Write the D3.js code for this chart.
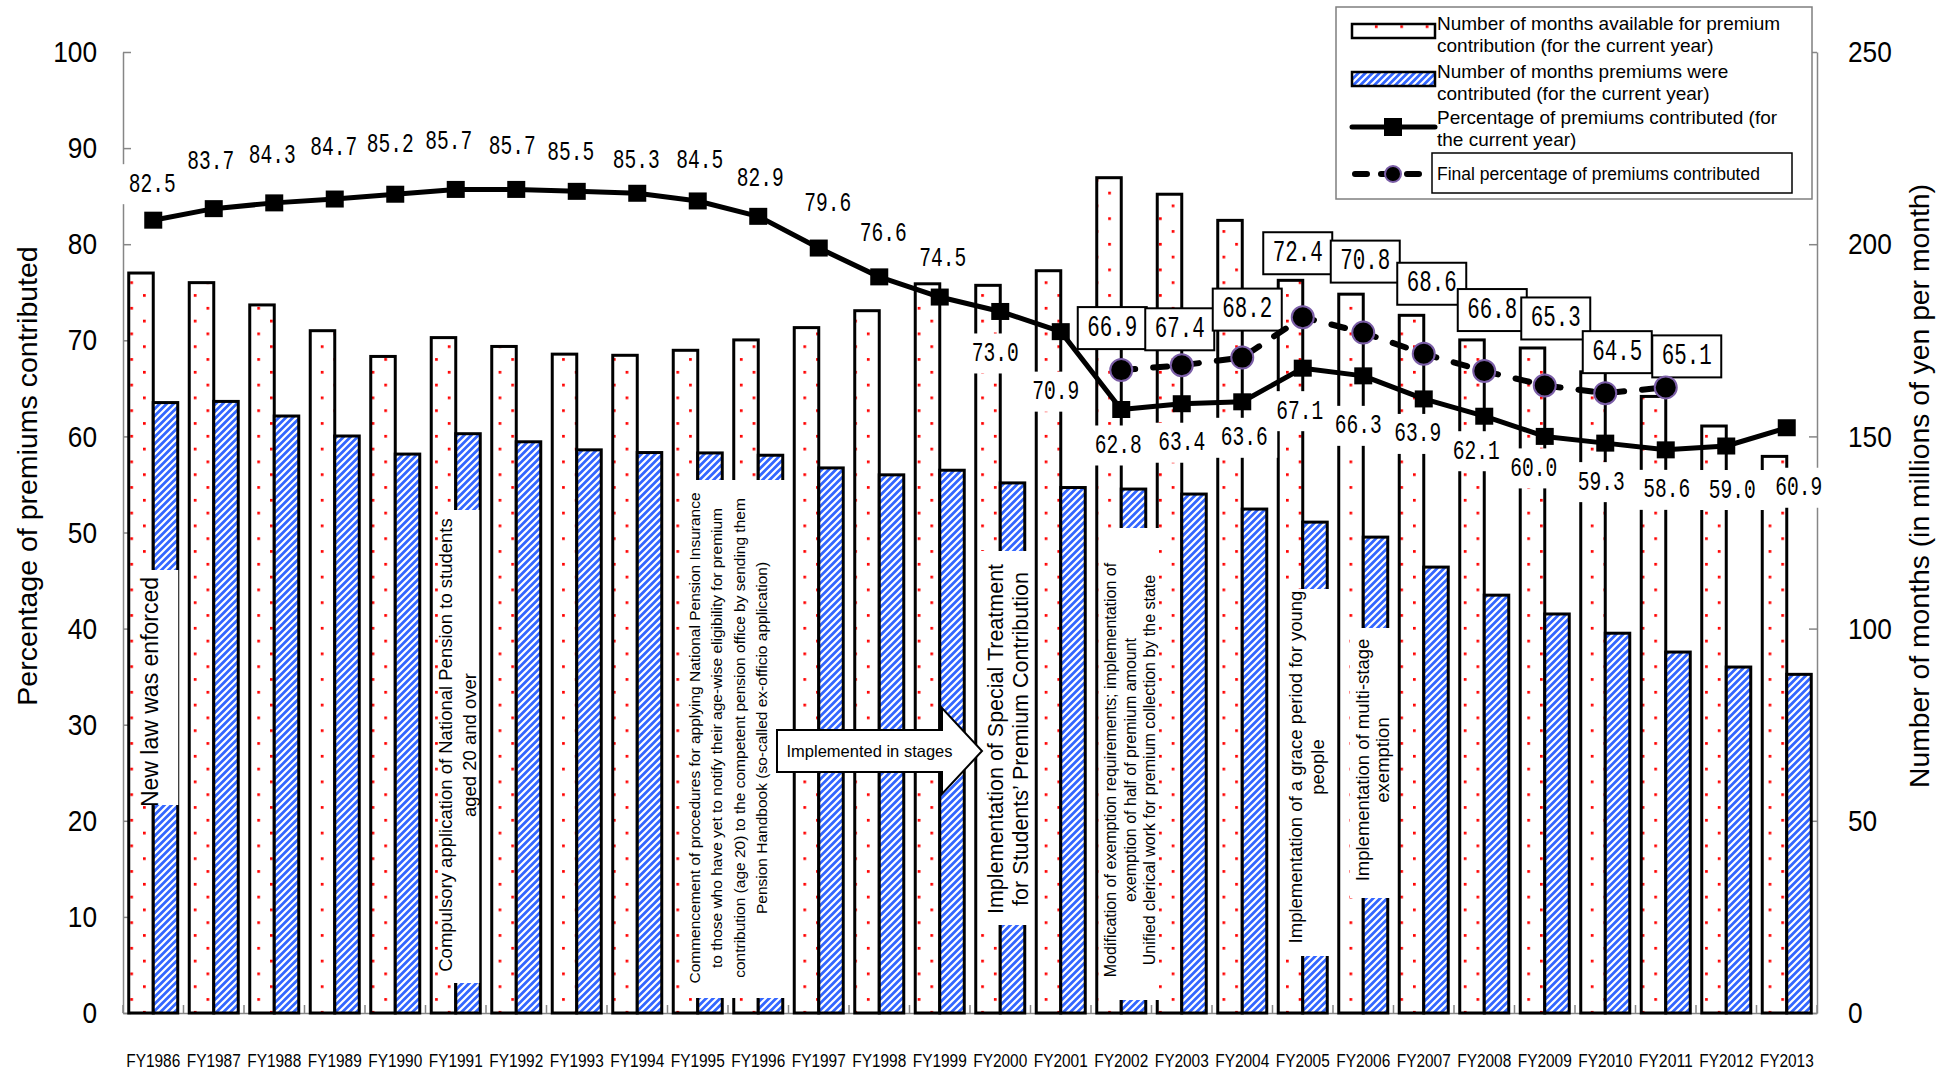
<!DOCTYPE html>
<html>
<head>
<meta charset="utf-8">
<script src="https://cdn.jsdelivr.net/npm/d3@7"></script>
<style>
  html, body { margin: 0; padding: 0; background: #fff; }
  svg { display: block; }
</style>
</head>
<body>
<svg id="chart" width="1948" height="1072"></svg>
<script>
// ---- Data ---------------------------------------------------------------
const years = ['FY1986','FY1987','FY1988','FY1989','FY1990','FY1991','FY1992','FY1993','FY1994','FY1995',
  'FY1996','FY1997','FY1998','FY1999','FY2000','FY2001','FY2002','FY2003','FY2004','FY2005',
  'FY2006','FY2007','FY2008','FY2009','FY2010','FY2011','FY2012','FY2013'];

// millions of months (right axis)
const availableMonths = [192.5,190.0,184.2,177.5,170.8,175.7,173.4,171.4,171.1,172.4,
  175.1,178.3,182.7,189.7,189.3,193.1,217.3,213.0,206.2,190.6,
  187.0,181.5,175.1,173.0,166.8,160.4,152.7,144.8];
const contributedMonths = [158.8,159.1,155.3,150.1,145.4,150.7,148.6,146.5,145.8,145.7,
  145.1,141.8,140.0,141.2,137.9,136.7,136.3,135.0,131.1,127.7,
  123.8,116.0,108.7,103.8,98.8,93.9,90.0,88.1];

// percent (left axis)
const currentRate = [82.5,83.7,84.3,84.7,85.2,85.7,85.7,85.5,85.3,84.5,
  82.9,79.6,76.6,74.5,73.0,70.9,62.8,63.4,63.6,67.1,
  66.3,63.9,62.1,60.0,59.3,58.6,59.0,60.9];
const finalYears = ['FY2002','FY2003','FY2004','FY2005','FY2006','FY2007','FY2008','FY2009','FY2010','FY2011'];
const finalRate = [66.9,67.4,68.2,72.4,70.8,68.6,66.8,65.3,64.5,65.1];

const leftTicks = [0,10,20,30,40,50,60,70,80,90,100];
const rightTicks = [0,50,100,150,200,250];

const leftTitle = 'Percentage of premiums contributed';
const rightTitle = 'Number of months (in millions of yen per month)';

// ---- Label placement (pixel nudges from each marker) ----------------------
const currentLabelDx = [-1,-3,-2,-1,-5,-7,-4,-6,-1,2,2,9,4,3,-5,-5,-3,0,2,-3,-5,-6,-8,-11,-4,1,6,12];
const currentLabelDy = [-36,-47,-47,-52,-50,-48,-43,-39,-33,-40,-38,-45,-43,-39,42,60,36,39,36,43,50,35,35,32,39,40,44,60];
const finalLabelDx = [-9,-2,5,-5,2,8,8,11,12,21];
const finalLabelDy = [-42,-36,-48,-64,-71,-70,-61,-67,-41,-31];

// ---- Scales ---------------------------------------------------------------
const svg = d3.select('#chart');
const plot = { left: 123, right: 1817, top: 52, bottom: 1013 };
const SANS = '"Liberation Sans", Arial, "Noto Sans", sans-serif';
const MONO = '"Liberation Mono", "DejaVu Sans Mono", monospace';
const AXIS_GREY = '#868686';
const BLUE = '#3366ff';

const x = d3.scaleBand().domain(years).range([plot.left, plot.right])
  .paddingInner(0.19).paddingOuter(0.095);
const xSub = d3.scaleBand().domain(['available', 'contributed']).range([0, x.bandwidth()]);
const yLeft = d3.scaleLinear().domain([0, 100]).range([plot.bottom, plot.top]);
const yRight = d3.scaleLinear().domain([0, 250]).range([plot.bottom, plot.top]);
const cx = yr => x(yr) + x.bandwidth() / 2;

// ---- Fill patterns ----------------------------------------------------------
const defs = svg.append('defs');
const dots = defs.append('pattern').attr('id', 'dots').attr('patternUnits', 'userSpaceOnUse')
  .attr('x', 130.3).attr('y', 281.3).attr('width', 25.4).attr('height', 25.6);
dots.append('rect').attr('width', 25.4).attr('height', 25.6).attr('fill', '#fff');
dots.append('rect').attr('x', 0).attr('y', 0).attr('width', 2.7).attr('height', 2.7).attr('fill', '#ff0000');
dots.append('rect').attr('x', 12.7).attr('y', 12.8).attr('width', 2.7).attr('height', 2.7).attr('fill', '#ff0000');

const hatch = defs.append('pattern').attr('id', 'hatch').attr('patternUnits', 'userSpaceOnUse')
  .attr('width', 7).attr('height', 7);
hatch.append('rect').attr('width', 7).attr('height', 7).attr('fill', BLUE);
hatch.append('path').attr('d', 'M-1,1 L1,-1 M0,7 L7,0 M6,8 L8,6')
  .attr('stroke', '#fff').attr('stroke-width', 2.2);

// ---- Axes -------------------------------------------------------------------
function styleAxis(g) {
  g.select('.domain').attr('stroke', AXIS_GREY).attr('stroke-width', 1.5);
  g.selectAll('.tick line').attr('stroke', AXIS_GREY).attr('stroke-width', 1.5);
  g.selectAll('.tick text').attr('fill', '#000').attr('font-family', SANS).attr('font-size', 30)
    .attr('lengthAdjust', 'spacingAndGlyphs')
    .attr('textLength', function () { return this.textContent.length * 14.6; });
}

svg.append('g').attr('transform', `translate(${plot.left},0)`)
  .call(d3.axisLeft(yLeft).tickValues(leftTicks).tickSizeInner(-8).tickSizeOuter(0).tickPadding(26))
  .call(styleAxis);

svg.append('g').attr('transform', `translate(${plot.right},0)`)
  .call(d3.axisRight(yRight).tickValues(rightTicks).tickSizeInner(-8).tickSizeOuter(0).tickPadding(31))
  .call(styleAxis);

const xAxis = svg.append('g').attr('transform', `translate(0,${plot.bottom})`)
  .call(d3.axisBottom(x).tickSize(0).tickSizeOuter(0));
xAxis.select('.domain').attr('stroke', AXIS_GREY).attr('stroke-width', 1.5);
xAxis.selectAll('.tick text').attr('y', 48).attr('dy', '0.35em')
  .attr('font-family', SANS).attr('font-size', 18).attr('fill', '#000')
  .attr('textLength', 54).attr('lengthAdjust', 'spacingAndGlyphs');

// category boundary ticks
const half = x.step() * x.paddingInner() / 2;
const bounds = years.map(yr => x(yr) - half).concat([x(years[years.length - 1]) + x.bandwidth() + half]);
svg.append('g').selectAll('line').data(bounds).join('line')
  .attr('x1', d => d).attr('x2', d => d)
  .attr('y1', plot.bottom).attr('y2', plot.bottom - 8)
  .attr('stroke', AXIS_GREY).attr('stroke-width', 1.5);

// axis titles
svg.append('text').attr('transform', 'translate(27,476) rotate(-90)')
  .attr('text-anchor', 'middle').attr('dominant-baseline', 'central')
  .attr('font-family', SANS).attr('font-size', 28.5).text(leftTitle);
svg.append('text').attr('transform', 'translate(1919,486) rotate(-90)')
  .attr('text-anchor', 'middle').attr('dominant-baseline', 'central')
  .attr('font-family', SANS).attr('font-size', 28.3).text(rightTitle);

// ---- Bars ---------------------------------------------------------------------
const barData = years.map((yr, i) => ({ year: yr, available: availableMonths[i], contributed: contributedMonths[i] }));
const bars = svg.append('g');
bars.selectAll('rect.avail').data(barData).join('rect').attr('class', 'avail')
  .attr('x', d => x(d.year) + xSub('available'))
  .attr('y', d => yRight(d.available))
  .attr('width', xSub.bandwidth())
  .attr('height', d => yRight(0) - yRight(d.available))
  .attr('fill', 'url(#dots)').attr('stroke', '#000').attr('stroke-width', 3);
bars.selectAll('rect.paid').data(barData).join('rect').attr('class', 'paid')
  .attr('x', d => x(d.year) + xSub('contributed'))
  .attr('y', d => yRight(d.contributed))
  .attr('width', xSub.bandwidth())
  .attr('height', d => yRight(0) - yRight(d.contributed))
  .attr('fill', 'url(#hatch)').attr('stroke', '#000').attr('stroke-width', 3);

// ---- Policy notes (vertical text boxes) ----------------------------------------
const notes = [
  { cat: 'FY1986', x0: 13.25, x1: 49.5, y0: 570, y1: 805, tx: 21.25, ty: 692, size: 23, gap: 0,
    lines: ['New law was enforced'] },
  { cat: 'FY1991', x0: 6.75, x1: 48, y0: 510, y1: 983, tx: 26.75, ty: 745, size: 18.5, gap: 24,
    lines: ['Compulsory application of National Pension to students', 'aged 20 and over'] },
  { cat: 'FY1995', x0: 10.75, x1: 116.75, y0: 480, y1: 998, tx: 54.75, ty: 738, size: 15.5, gap: 22.5,
    lines: ['Commencement of procedures for applying National Pension Insurance',
            'to those who have yet to notify their age-wise eligibility for premium',
            'contribution (age 20) to the competent pension office by sending them',
            'Pension Handbook (so-called ex-officio application)'] },
  { cat: 'FY2000', x0: 4.25, x1: 57.25, y0: 551, y1: 925, tx: 32.75, ty: 739, size: 21.5, gap: 25,
    lines: ['Implementation of Special Treatment', 'for Students\u2019 Premium Contribution'] },
  { cat: 'FY2002', x0: 3.25, x1: 62.25, y0: 528, y1: 1000, tx: 33.75, ty: 770, size: 16, gap: 19.5,
    lines: ['Modification of exemption requirements; implementation of',
            'exemption of half of premium amount',
            'Unified clerical work for premium collection by the state'] },
  { cat: 'FY2005', x0: 2.75, x1: 51.75, y0: 589, y1: 956, tx: 28.25, ty: 767, size: 18.5, gap: 22,
    lines: ['Implementation of a grace period for young', 'people'] },
  { cat: 'FY2006', x0: 11.25, x1: 51.25, y0: 628, y1: 898, tx: 34.25, ty: 760, size: 18.5, gap: 20,
    lines: ['Implementation of multi-stage', 'exemption'] }
];
const noteG = svg.append('g');
notes.forEach(n => {
  const b = x(n.cat);
  noteG.append('rect').attr('x', b + n.x0).attr('y', n.y0)
    .attr('width', n.x1 - n.x0).attr('height', n.y1 - n.y0).attr('fill', '#fff');
  const t = noteG.append('g').attr('transform', `translate(${b + n.tx},${n.ty}) rotate(-90)`);
  n.lines.forEach((ln, i) => {
    t.append('text').attr('x', 0).attr('y', (i - (n.lines.length - 1) / 2) * n.gap)
      .attr('text-anchor', 'middle').attr('dominant-baseline', 'central')
      .attr('font-family', SANS).attr('font-size', n.size).attr('fill', '#000').text(ln);
  });
});

// "Implemented in stages" block arrow, anchored on FY1996
{
  const b = x('FY1996');
  const x0 = b + 43.25, xb = b + 208.25, xt = b + 248.25;
  const pts = [[x0, 730], [xb, 730], [xb, 708], [xt, 751], [xb, 794], [xb, 772], [x0, 772]];
  noteG.append('path').attr('d', d3.line()(pts) + 'Z')
    .attr('fill', '#fff').attr('stroke', '#000').attr('stroke-width', 2);
  noteG.append('text').attr('x', b + 135.75).attr('y', 751)
    .attr('text-anchor', 'middle').attr('dominant-baseline', 'central')
    .attr('font-family', SANS).attr('font-size', 16.5).text('Implemented in stages');
}

// ---- Value labels ---------------------------------------------------------------
const fmt = d3.format('.1f');
const labelG = svg.append('g');

// monospaced value text squeezed horizontally to a target width
function valueText(parent, str, px, py, size, width) {
  const g = parent.append('g');
  const t = g.append('text').attr('x', 0).attr('y', 0)
    .attr('text-anchor', 'middle').attr('dominant-baseline', 'central')
    .attr('font-family', MONO).attr('font-size', size).attr('fill', '#000').text(str);
  const natural = t.node().getComputedTextLength() || width;
  g.attr('transform', `translate(${px},${py}) scale(${width / natural},1)`);
}

const curLabels = years.map((yr, i) => ({
  x: cx(yr) + currentLabelDx[i], y: yLeft(currentRate[i]) + currentLabelDy[i], v: currentRate[i] }));
labelG.selectAll('rect.cur').data(curLabels).join('rect').attr('class', 'cur')
  .attr('x', d => d.x - 33).attr('y', d => d.y - 20).attr('width', 66).attr('height', 40).attr('fill', '#fff');
curLabels.forEach(d => valueText(labelG, fmt(d.v), d.x, d.y, 28, 47));

const finLabels = finalYears.map((yr, i) => ({
  x: cx(yr) + finalLabelDx[i], y: yLeft(finalRate[i]) + finalLabelDy[i], v: finalRate[i] }));
finLabels.forEach(d => {
  labelG.append('rect').attr('x', d.x - 34.5).attr('y', d.y - 21).attr('width', 69).attr('height', 42)
    .attr('fill', '#fff').attr('stroke', '#000').attr('stroke-width', 2);
  valueText(labelG, fmt(d.v), d.x, d.y, 30, 50);
});

// ---- Lines -------------------------------------------------------------------
const lineG = svg.append('g');
const curPts = years.map((yr, i) => ({ year: yr, v: currentRate[i] }));
const finPts = finalYears.map((yr, i) => ({ year: yr, v: finalRate[i] }));
const lineGen = d3.line().x(d => cx(d.year)).y(d => yLeft(d.v));

lineG.append('path').attr('d', lineGen(curPts)).attr('fill', 'none')
  .attr('stroke', '#000').attr('stroke-width', 5).attr('stroke-linejoin', 'round');
lineG.selectAll('rect.mk').data(curPts).join('rect').attr('class', 'mk')
  .attr('x', d => cx(d.year) - 9).attr('y', d => yLeft(d.v) - 8.5)
  .attr('width', 18).attr('height', 17).attr('fill', '#000');

lineG.append('path').attr('d', lineGen(finPts)).attr('fill', 'none')
  .attr('stroke', '#000').attr('stroke-width', 6).attr('stroke-linecap', 'round')
  .attr('stroke-dasharray', '14,18');
lineG.selectAll('circle.mk').data(finPts).join('circle').attr('class', 'mk')
  .attr('cx', d => cx(d.year)).attr('cy', d => yLeft(d.v)).attr('r', 11)
  .attr('fill', '#000').attr('stroke', '#7b5ea7').attr('stroke-width', 2);

// ---- Legend ----------------------------------------------------------------------
const lg = svg.append('g');
lg.append('rect').attr('x', 1336).attr('y', 7).attr('width', 476).attr('height', 192)
  .attr('fill', '#fff').attr('stroke', '#7f7f7f').attr('stroke-width', 1.5);
const legendItems = [
  { kind: 'available', lines: ['Number of months available for premium', 'contribution (for the current year)'], y: [23, 45] },
  { kind: 'contributed', lines: ['Number of months premiums were', 'contributed (for the current year)'], y: [71, 93] },
  { kind: 'current', lines: ['Percentage of premiums contributed (for', 'the current year)'], y: [117, 139] },
  { kind: 'final', lines: ['Final percentage of premiums contributed'], y: [174] }
];
legendItems.forEach(it => {
  if (it.kind === 'available' || it.kind === 'contributed') {
    const yy = it.kind === 'available' ? 24 : 72;
    lg.append('rect').attr('x', 1352).attr('y', yy).attr('width', 83).attr('height', 14)
      .attr('fill', it.kind === 'available' ? 'url(#dots)' : 'url(#hatch)')
      .attr('stroke', '#000').attr('stroke-width', 2.5);
  } else if (it.kind === 'current') {
    lg.append('line').attr('x1', 1352).attr('x2', 1435).attr('y1', 127).attr('y2', 127)
      .attr('stroke', '#000').attr('stroke-width', 5).attr('stroke-linecap', 'round');
    lg.append('rect').attr('x', 1384).attr('y', 118).attr('width', 18).attr('height', 18).attr('fill', '#000');
  } else {
    lg.append('line').attr('x1', 1355).attr('x2', 1425).attr('y1', 174).attr('y2', 174)
      .attr('stroke', '#000').attr('stroke-width', 6).attr('stroke-linecap', 'round')
      .attr('stroke-dasharray', '12,14');
    lg.append('circle').attr('cx', 1393).attr('cy', 174).attr('r', 8)
      .attr('fill', '#000').attr('stroke', '#7b5ea7').attr('stroke-width', 2);
    lg.append('rect').attr('x', 1432).attr('y', 153).attr('width', 360).attr('height', 40)
      .attr('fill', '#fff').attr('stroke', '#000').attr('stroke-width', 1.5);
  }
  it.lines.forEach((ln, i) => {
    lg.append('text').attr('x', 1437).attr('y', it.y[i]).attr('dominant-baseline', 'central')
      .attr('font-family', SANS).attr('font-size', it.kind === 'final' ? 17.5 : 19).attr('fill', '#000').text(ln);
  });
});
</script>
</body>
</html>
